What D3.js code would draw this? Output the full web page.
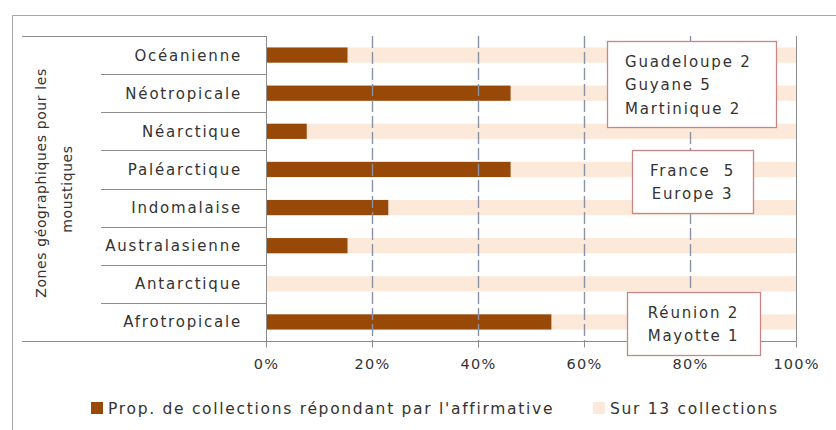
<!DOCTYPE html>
<html><head><meta charset="utf-8">
<script src="https://cdn.jsdelivr.net/npm/d3@7"></script>
<style>
body{margin:0;background:#fff;}
svg text{font-family:"DejaVu Sans",sans-serif;fill:#333;}
</style></head>
<body><svg id="c" width="836" height="430"></svg>
<script>
const categories = ["Océanienne","Néotropicale","Néarctique","Paléarctique","Indomalaise","Australasienne","Antarctique","Afrotropicale"];
const affirmative = [2,6,1,6,3,2,0,7];   // nombre de collections (sur 13)
const totalCollections = 13;
const xTicks = [0,0.2,0.4,0.6,0.8,1];
const seriesNames = ["Prop. de collections répondant par l'affirmative","Sur 13 collections"];
const notes = [
  {cat:"Néotropicale", lines:["Guadeloupe 2","Guyane 5","Martinique 2"], align:"start"},
  {cat:"Paléarctique", lines:["France  5","Europe 3"], align:"middle"},
  {cat:"Afrotropicale", lines:["Réunion 2","Mayotte 1"], align:"middle"}
];
const dark = "#984807", light = "#fde9d9";

const svg = d3.select("#c");
const L = 266, R = 796, T = 36, B = 341;
const x = d3.scaleLinear().domain([0,1]).range([L,R]);
const y = d3.scaleBand().domain(categories).range([T,B]).paddingInner(0.6).paddingOuter(0.3);
const yb = d3.scaleBand().domain(categories).range([T,B]);

// outer frame
svg.append("path").attr("d","M12.5,430 V15.5 H836").attr("fill","none").attr("stroke","#a6a6a6");

// bars (stacked)
const rows = categories.map((c,i)=>({c, p:affirmative[i]/totalCollections}));
svg.append("g").selectAll("rect").data(rows).join("rect")
  .attr("x",d=>x(d.p)).attr("width",d=>x(1)-x(d.p))
  .attr("y",d=>y(d.c)).attr("height",y.bandwidth()).attr("fill",light);
svg.append("g").selectAll("rect").data(rows).join("rect")
  .attr("x",x(0)).attr("width",d=>x(d.p)-x(0))
  .attr("y",d=>y(d.c)).attr("height",y.bandwidth()).attr("fill",dark);

// gridlines
const grid = svg.append("g");
grid.selectAll("line").data(xTicks.filter(t=>t>0&&t<1)).join("line")
  .attr("x1",d=>Math.round(x(d))+0.5).attr("x2",d=>Math.round(x(d))+0.5)
  .attr("y1",T).attr("y2",B).attr("stroke","#8a93a6").attr("stroke-width",1.4)
  .attr("stroke-dasharray","12,4");
svg.append("line").attr("x1",x(1)+0.5).attr("x2",x(1)+0.5).attr("y1",T).attr("y2",B).attr("stroke","#8c8c8c");

// x axis
const xa = svg.append("g").attr("transform",`translate(0,${B+0.5})`)
  .call(d3.axisBottom(x).tickValues(xTicks).tickFormat(d3.format(".0%")).tickSize(6).tickPadding(11));
xa.select(".domain").remove();
xa.selectAll("line").attr("stroke","#8c8c8c");
xa.selectAll("text").attr("font-size",14.5).attr("letter-spacing","1.2px").attr("fill","#333")
  .attr("font-family","DejaVu Sans");
svg.append("line").attr("x1",22).attr("x2",R+0.5).attr("y1",B+0.5).attr("y2",B+0.5).attr("stroke","#8c8c8c");

// y axis (category separators)
svg.append("line").attr("x1",x(0)+0.5).attr("x2",x(0)+0.5).attr("y1",T).attr("y2",B).attr("stroke","#8c8c8c");
const seps = categories.map(c=>yb(c));
svg.append("g").selectAll("line").data(seps).join("line")
  .attr("x1",(d,i)=>i===0?22:101).attr("x2",x(0)+0.5)
  .attr("y1",d=>Math.round(d)+0.5).attr("y2",d=>Math.round(d)+0.5).attr("stroke","#8c8c8c");
svg.append("g").selectAll("text").data(categories).join("text")
  .attr("x",242).attr("y",d=>yb(d)+yb.bandwidth()/2+5.5).attr("text-anchor","end")
  .attr("font-size",15).attr("letter-spacing","1.8px").text(d=>d);

// y title
const yt = svg.append("text").attr("transform","translate(46,183) rotate(-90)")
  .attr("text-anchor","middle").attr("font-size",14).attr("letter-spacing","0.6px");
yt.append("tspan").attr("x",0).attr("dy",0).text("Zones géographiques pour les");
yt.append("tspan").attr("x",-6).attr("dy",26).text("moustiques");

// annotation boxes
const boxes = [
  {x0:607,x1:776,y0:41,y1:127},
  {x0:632,x1:753,y0:150,y1:213},
  {x0:627,x1:760,y0:292,y1:355}
];
notes.forEach((n,i)=>{
  const b = boxes[i];
  const g = svg.append("g");
  g.append("rect").attr("x",b.x0+0.5).attr("y",b.y0+0.5).attr("width",b.x1-b.x0).attr("height",b.y1-b.y0)
    .attr("fill","#fff").attr("stroke","#c98585").attr("stroke-width",1.3);
  const lh = 23.5;
  const cy = (b.y0+b.y1)/2 - (n.lines.length-1)*lh/2;
  g.selectAll("text").data(n.lines).join("text")
    .attr("x", n.align==="start"? b.x0+18 : (b.x0+b.x1)/2)
    .attr("y",(d,j)=>cy + j*lh + 6).attr("text-anchor",n.align)
    .attr("font-size",15).attr("letter-spacing","1.8px").style("white-space","pre").text(d=>d);
});

// legend
const lg = svg.append("g");
[{x:91,c:dark,t:seriesNames[0]},{x:593,c:light,t:seriesNames[1]}].forEach(l=>{
  lg.append("rect").attr("x",l.x).attr("y",402).attr("width",12).attr("height",12).attr("fill",l.c);
  lg.append("text").attr("x",l.x+17).attr("y",413.5).attr("font-size",15.5).attr("letter-spacing","1.7px").text(l.t);
});
</script></body></html>
